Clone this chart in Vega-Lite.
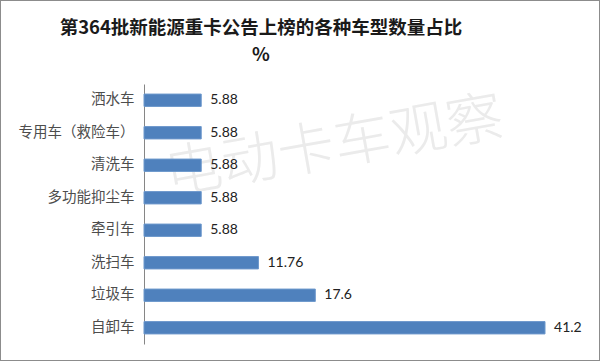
{
  "$schema": "https://vega.github.io/schema/vega-lite/v6.json",
  "width": 600,
  "height": 361,
  "autosize": "none",
  "padding": 0,
  "background": "white",
  "config": {
    "view": {"stroke": "#8c8c8c", "strokeWidth": 2},
    "font": "Noto Sans CJK SC"
  },
  "title": {
    "text": ["第364批新能源重卡公告上榜的各种车型数量占比", "%"],
    "font": "Noto Sans CJK SC",
    "fontSize": 18.5,
    "fontWeight": 600,
    "color": "#1a1a1a",
    "anchor": "middle",
    "dx": -39,
    "offset": -64,
    "lineHeight": 27
  },
  "data": {
    "values": [
      {"type": "洒水车", "value": 5.88, "label": "5.88"},
      {"type": "专用车（救险车）", "value": 5.88, "label": "5.88"},
      {"type": "清洗车", "value": 5.88, "label": "5.88"},
      {"type": "多功能抑尘车", "value": 5.88, "label": "5.88"},
      {"type": "牵引车", "value": 5.88, "label": "5.88"},
      {"type": "洗扫车", "value": 11.76, "label": "11.76"},
      {"type": "垃圾车", "value": 17.6, "label": "17.6"},
      {"type": "自卸车", "value": 41.2, "label": "41.2"}
    ]
  },
  "layer": [
    {
      "data": {"values": [{"type": "清洗车", "pos": 19.9, "wm": "电动卡车观察"}]},
      "mark": {"type": "text", "font": "Noto Sans CJK SC", "fontSize": 57, "fontWeight": 300, "color": "#ebebeb", "angle": 350, "align": "center", "baseline": "middle", "dy": -18},
      "encoding": {
        "y": {
          "field": "type",
          "type": "nominal",
          "sort": null,
          "scale": {
            "domain": ["洒水车", "专用车（救险车）", "清洗车", "多功能抑尘车", "牵引车", "洗扫车", "垃圾车", "自卸车"],
            "range": [84, 344],
            "paddingInner": 0.62,
            "paddingOuter": 0.31
          },
          "axis": {
            "title": null,
            "offset": -144,
            "domainColor": "#868686",
            "domainWidth": 1,
            "ticks": false,
            "grid": false,
            "labelPadding": 10,
            "labelFont": "Noto Sans CJK SC",
            "labelFontSize": 14.5,
            "labelColor": "#4d4d4d",
            "labelLimit": 200
          }
        },
        "x": {
          "field": "pos",
          "type": "quantitative",
          "scale": {"domain": [0, 45], "range": [144, 582], "nice": false},
          "axis": null
        },
        "text": {"field": "wm"}
      }
    },
    {
      "mark": {"type": "bar", "color": "#4f81bd", "stroke": "#6d98cc", "strokeWidth": 1},
      "encoding": {
        "y": {"field": "type", "type": "nominal", "sort": null},
        "x": {"field": "value", "type": "quantitative"}
      }
    },
    {
      "mark": {"type": "text", "align": "left", "baseline": "middle", "dx": 9, "font": "Lato", "fontSize": 14, "color": "#222222"},
      "encoding": {
        "y": {"field": "type", "type": "nominal", "sort": null},
        "x": {"field": "value", "type": "quantitative"},
        "text": {"field": "label"}
      }
    }
  ]
}
